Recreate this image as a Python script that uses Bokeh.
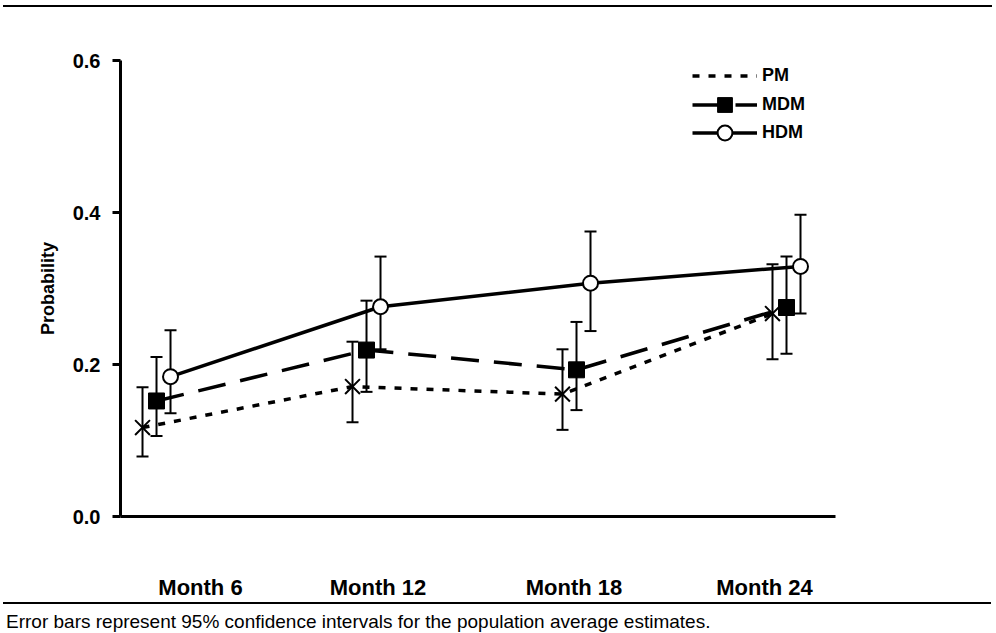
from bokeh.plotting import figure
from bokeh.layouts import column
from bokeh.models import (ColumnDataSource, Whisker, TeeHead, Legend, LegendItem,
                          FixedTicker, Range1d, PrintfTickFormatter, Div)
from bokeh.embed import file_html
from bokeh.resources import INLINE

# ---- data ----
months = [6, 12, 18, 24]
month_labels = ["Month 6", "Month 12", "Month 18", "Month 24"]
series_names = ["PM", "MDM", "HDM"]
pm_est = [0.117, 0.171, 0.161, 0.267]
pm_lo = [0.079, 0.124, 0.114, 0.207]
pm_hi = [0.170, 0.230, 0.220, 0.332]
mdm_est = [0.152, 0.219, 0.193, 0.275]
mdm_lo = [0.106, 0.164, 0.140, 0.214]
mdm_hi = [0.210, 0.284, 0.256, 0.342]
hdm_est = [0.184, 0.276, 0.307, 0.329]
hdm_lo = [0.136, 0.220, 0.244, 0.267]
hdm_hi = [0.245, 0.342, 0.375, 0.397]
y_ticks = [0.0, 0.2, 0.4, 0.6]
footnote = "Error bars represent 95% confidence intervals for the population average estimates."

# ---- layout constants ----
OFFSETS = {"PM": -0.4, "MDM": 0.0, "HDM": 0.4}
LABEL_SHIFT = [1.257, 0.33, -0.07, -0.63]
FONT = "Liberation Sans"

p = figure(width=996, height=594, x_range=Range1d(4.971, 25.4), y_range=Range1d(0, 0.6),
           output_backend="svg", toolbar_location=None,
           min_border_left=120, min_border_right=161, min_border_top=52, min_border_bottom=85)
p.margin = 0
p.xgrid.visible = False
p.ygrid.visible = False
p.outline_line_color = None
p.background_fill_color = "white"
p.border_fill_color = "white"

yax = p.yaxis[0]
yax.ticker = FixedTicker(ticks=y_ticks)
yax.formatter = PrintfTickFormatter(format="%.1f")
yax.axis_line_width = 3
yax.axis_line_color = "black"
yax.major_tick_line_width = 3
yax.major_tick_line_color = "black"
yax.major_tick_out = 8
yax.major_tick_in = 0
yax.minor_tick_out = 0
yax.minor_tick_in = 0
yax.major_label_text_font = FONT
yax.major_label_text_font_size = "20px"
yax.major_label_text_font_style = "bold"
yax.major_label_text_color = "black"
yax.major_label_standoff = 12
yax.axis_label = "Probability"
yax.axis_label_text_font = FONT
yax.axis_label_text_font_size = "18px"
yax.axis_label_text_font_style = "bold"
yax.axis_label_text_color = "black"
yax.axis_label_standoff = 12

label_pos = [m + s for m, s in zip(months, LABEL_SHIFT)]
xax = p.xaxis[0]
xax.ticker = FixedTicker(ticks=label_pos)
xax.major_label_overrides = {pos: lab for pos, lab in zip(label_pos, month_labels)}
xax.axis_line_width = 3
xax.axis_line_color = "black"
xax.major_tick_out = 0
xax.major_tick_in = 0
xax.minor_tick_out = 0
xax.minor_tick_in = 0
xax.major_label_text_font = FONT
xax.major_label_text_font_size = "22px"
xax.major_label_text_font_style = "bold"
xax.major_label_text_color = "black"
xax.major_label_standoff = 58

series = {
    "PM": (pm_est, pm_lo, pm_hi),
    "MDM": (mdm_est, mdm_lo, mdm_hi),
    "HDM": (hdm_est, hdm_lo, hdm_hi),
}
dashes = {"PM": "7 9", "MDM": "28 15", "HDM": "solid"}

renderers = {}
for name in series_names:
    est, lo, hi = series[name]
    xs = [m + OFFSETS[name] for m in months]
    src = ColumnDataSource(dict(x=xs, y=est, lower=lo, upper=hi))
    ln = p.line("x", "y", source=src, line_color="black", line_width=3.5, line_dash=dashes[name])
    w = Whisker(source=src, base="x", upper="upper", lower="lower", line_width=2, line_color="black",
                upper_head=TeeHead(size=12, line_width=2, line_color="black"),
                lower_head=TeeHead(size=12, line_width=2, line_color="black"),
                level="underlay")
    p.add_layout(w)
    renderers[name] = [ln]

for name in series_names:
    est, lo, hi = series[name]
    xs = [m + OFFSETS[name] for m in months]
    src = ColumnDataSource(dict(x=xs, y=est))
    if name == "PM":
        p.scatter("x", "y", source=src, marker="x", size=21, line_width=2, line_color="black")
        leg = p.scatter(x=[], y=[], marker="asterisk", size=16, line_width=2, line_color="black")
    elif name == "MDM":
        leg = p.scatter("x", "y", source=src, marker="square", size=16, line_color="black",
                        fill_color="black", line_width=1)
    else:
        leg = p.scatter("x", "y", source=src, marker="circle", size=15, line_color="black",
                        fill_color="white", line_width=2)
    renderers[name].append(leg)

# one legend per row so that the rows can sit closer than the glyph height
row_y = [422, 393, 365]
for name, ly in zip(series_names, row_y):
    lg = Legend(items=[LegendItem(label=name, renderers=renderers[name])],
                location=(572, ly), orientation="vertical",
                glyph_width=65, glyph_height=37, spacing=0, padding=0, margin=0,
                label_standoff=5, label_text_font=FONT, label_text_font_size="18px",
                label_text_font_style="bold", label_text_color="black", label_height=20,
                border_line_color=None, background_fill_alpha=0)
    p.add_layout(lg)

top_rule = Div(width=996, height=8, margin=0, text="",
               styles={"background-image": "linear-gradient(#000, #000)",
                       "background-size": "989px 2px",
                       "background-position": "3px 5px",
                       "background-repeat": "no-repeat"})
bottom = Div(width=996, height=31, margin=0,
             text='<div style="position:relative;width:996px;height:31px;">'
                  '<div style="position:absolute;left:3px;top:0px;width:988px;height:2px;background:#000;"></div>'
                  '<div style="position:absolute;left:6px;top:10px;font-family:\'Liberation Sans\';'
                  'font-size:19px;line-height:19px;white-space:nowrap;color:#000;">'
                  + footnote + '</div></div>')

layout = column(top_rule, p, bottom, spacing=0, margin=0)
open("out.html", "w").write(file_html(layout, INLINE))
